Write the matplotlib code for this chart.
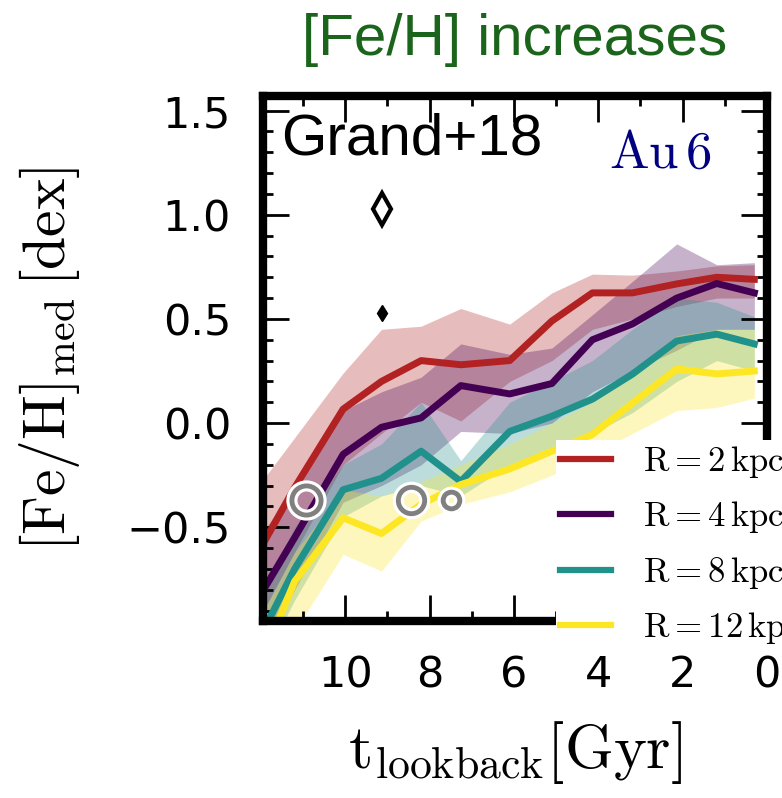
import numpy as np
import matplotlib
matplotlib.use('Agg')
import matplotlib.pyplot as plt
from matplotlib.ticker import MultipleLocator

plt.rcParams['mathtext.fontset'] = 'cm'

# lookback time of each bin [Gyr]
t_bins = [12.2, 11.2, 10.05, 9.14, 8.2, 7.26, 6.1, 5.1, 4.14, 3.19, 2.14, 1.19, 0.3]

# median [Fe/H] and spread per radius
feh_r2 = [-0.67, -0.31, 0.067, 0.20, 0.30, 0.28, 0.30, 0.49, 0.625, 0.625, 0.668, 0.70, 0.69]
feh_r2_hi = [-0.34, -0.07, 0.24, 0.45, 0.465, 0.55, 0.475, 0.625, 0.715, 0.71, 0.73, 0.755, 0.76]
feh_r2_lo = [-1.0, -0.62, -0.2, -0.05, 0.1, 0.01, 0.2, 0.3, 0.45, 0.5, 0.56, 0.6, 0.6]

feh_r4 = [-0.89, -0.55, -0.15, -0.02, 0.025, 0.18, 0.14, 0.19, 0.40, 0.476, 0.60, 0.67, 0.625]
feh_r4_hi = [-0.6, -0.3, 0.06, 0.15, 0.22, 0.38, 0.33, 0.36, 0.52, 0.68, 0.86, 0.76, 0.77]
feh_r4_lo = [-1.2, -0.8, -0.38, -0.3, -0.2, -0.04, -0.05, 0.0, 0.15, 0.25, 0.35, 0.45, 0.45]

feh_r8 = [-1.1, -0.70, -0.32, -0.265, -0.135, -0.28, -0.04, 0.033, 0.115, 0.235, 0.394, 0.427, 0.38]
feh_r8_hi = [-0.9, -0.5, -0.2, -0.1, 0.1, -0.18, 0.1, 0.2, 0.3, 0.45, 0.6, 0.58, 0.51]
feh_r8_lo = [-1.25, -0.85, -0.45, -0.35, -0.3, -0.35, -0.2, -0.12, -0.05, 0.05, 0.2, 0.3, 0.25]

feh_r12 = [-1.25, -0.76, -0.455, -0.53, -0.39, -0.295, -0.22, -0.135, -0.055, 0.096, 0.26, 0.236, 0.25]
feh_r12_hi = [-1.0, -0.62, -0.32, -0.35, -0.28, -0.2, -0.1, 0.0, 0.1, 0.25, 0.42, 0.45, 0.45]
feh_r12_lo = [-1.5, -1.0, -0.63, -0.71, -0.47, -0.39, -0.33, -0.25, -0.15, -0.05, 0.06, 0.075, 0.12]

radii = ['2', '4', '8', '12']
colors = ['#B22222', '#440154', '#21918C', '#FDE725']

# observational points (Grand+18)
diamond_t = [9.14, 9.14]
diamond_feh = [1.03, 0.53]
circle_t = [10.93, 8.45, 7.5]
circle_feh = [-0.37, -0.37, -0.37]
circle_size = [21, 19, 12]

medians = [feh_r2, feh_r4, feh_r8, feh_r12]
highs = [feh_r2_hi, feh_r4_hi, feh_r8_hi, feh_r12_hi]
lows = [feh_r2_lo, feh_r4_lo, feh_r8_lo, feh_r12_lo]

fig = plt.figure(figsize=(7.82, 7.98), dpi=100)
ax = fig.add_axes([0.3363, 0.2218, 0.6445, 0.6579])

for lo, hi, c in zip(lows, highs, colors):
    ax.fill_between(t_bins, lo, hi, color=c, alpha=0.3, lw=0)

for med, c, r in zip(medians, colors, radii):
    ax.plot(t_bins, med, color=c, lw=5, label=r'$\mathrm{R = %s\,kpc}$' % r)

# open and filled diamonds
ax.plot(diamond_t[0], diamond_feh[0], 'd', ms=16, mfc='none', mec='k', mew=3)
ax.plot(diamond_t[1], diamond_feh[1], 'd', ms=8.5, color='k')

# grey circles with white halo
for t, f, s in zip(circle_t, circle_feh, circle_size):
    ax.plot(t, f, 'o', ms=s, mfc='none', mec='white', mew=8)
    ax.plot(t, f, 'o', ms=s, mfc='none', mec='grey', mew=3.5)

ax.set_xlim(11.95, 0)
ax.set_ylim(-0.95, 1.57)
ax.xaxis.set_major_locator(MultipleLocator(2))
ax.xaxis.set_minor_locator(MultipleLocator(1))
ax.yaxis.set_major_locator(MultipleLocator(0.5))
ax.yaxis.set_minor_locator(MultipleLocator(0.1))
ax.tick_params(which='both', direction='in', top=True, right=True)
ax.tick_params(which='major', length=19, width=2, labelsize=31)
ax.tick_params(axis='x', which='major', pad=24)
ax.tick_params(axis='y', which='major', pad=23)
ax.tick_params(which='minor', length=7, width=2)
for sp in ax.spines.values():
    sp.set_linewidth(6)

ax.set_xlabel(r'$\mathrm{t_{lookback}[Gyr]}$', fontsize=45, labelpad=16)
ax.set_ylabel(r'$\mathrm{[Fe/H]_{med}\,[dex]}$', fontsize=43, labelpad=32)

ax.text(0.036, 0.888, 'Grand+18', transform=ax.transAxes, fontsize=42,
        family='Liberation Sans', va='baseline', ha='left')
ax.text(0.891, 0.863, r'$\mathrm{Au\,6}$', transform=ax.transAxes, fontsize=38,
        color='navy', va='baseline', ha='right')

fig.text(0.6586, 0.95, '[Fe/H] increases', color='#1b641b', fontsize=42,
         family='Liberation Sans', ha='center', va='center')

leg = ax.legend(loc='upper left', bbox_to_anchor=(0.711, 0.4486),
                bbox_transform=fig.transFigure, fontsize=25, frameon=True,
                fancybox=False, framealpha=1, edgecolor='none', facecolor='white',
                borderaxespad=0, borderpad=0.12, handlelength=1.47,
                handletextpad=0.92, labelspacing=0.556)
for line in leg.get_lines():
    line.set_linewidth(4.5)

fig.savefig('out.png', dpi=100)
